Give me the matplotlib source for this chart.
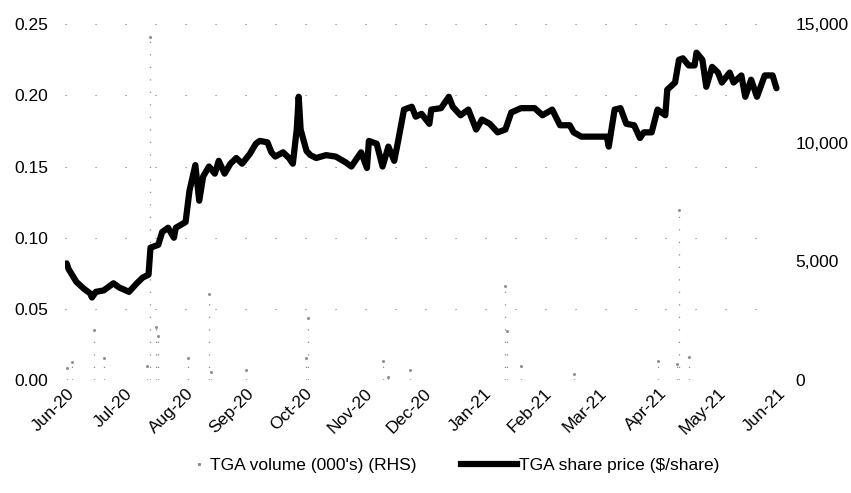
import matplotlib
matplotlib.use("Agg")
import matplotlib.pyplot as plt
import matplotlib.dates as mdates
from matplotlib.lines import Line2D
from matplotlib.legend_handler import HandlerBase
from matplotlib.ticker import FuncFormatter, FixedLocator
import pandas as pd

plt.rcParams['font.family'] = ['Liberation Sans', 'DejaVu Sans']

# Share price ($/share)
price_dates = [
    "2020-06-01", "2020-06-02", "2020-06-06", "2020-06-10", "2020-06-13", "2020-06-14",
    "2020-06-16", "2020-06-20", "2020-06-25", "2020-06-28", "2020-07-03", "2020-07-07",
    "2020-07-10", "2020-07-13", "2020-07-14", "2020-07-18", "2020-07-20", "2020-07-23",
    "2020-07-26", "2020-07-27", "2020-08-01", "2020-08-03", "2020-08-06", "2020-08-08",
    "2020-08-10", "2020-08-13", "2020-08-16", "2020-08-18", "2020-08-21", "2020-08-24",
    "2020-08-27", "2020-08-30", "2020-09-03", "2020-09-06", "2020-09-08", "2020-09-12",
    "2020-09-14", "2020-09-16", "2020-09-20", "2020-09-23", "2020-09-25", "2020-09-27",
    "2020-09-28", "2020-09-29", "2020-10-02", "2020-10-04", "2020-10-07", "2020-10-12",
    "2020-10-17", "2020-10-22", "2020-10-25", "2020-10-30", "2020-11-02", "2020-11-03",
    "2020-11-07", "2020-11-10", "2020-11-13", "2020-11-16", "2020-11-18", "2020-11-21",
    "2020-11-25", "2020-11-27", "2020-11-30", "2020-12-04", "2020-12-05", "2020-12-10",
    "2020-12-14", "2020-12-16", "2020-12-20", "2020-12-24", "2020-12-28", "2020-12-31",
    "2021-01-04", "2021-01-08", "2021-01-12", "2021-01-15", "2021-01-20", "2021-01-27",
    "2021-01-31", "2021-02-05", "2021-02-09", "2021-02-14", "2021-02-16", "2021-02-20",
    "2021-02-25", "2021-03-05", "2021-03-06", "2021-03-09", "2021-03-12", "2021-03-15",
    "2021-03-19", "2021-03-22", "2021-03-24", "2021-03-28", "2021-03-31", "2021-04-04",
    "2021-04-05", "2021-04-09", "2021-04-11", "2021-04-13", "2021-04-16", "2021-04-19",
    "2021-04-20", "2021-04-23", "2021-04-25", "2021-04-28", "2021-05-01", "2021-05-03",
    "2021-05-07", "2021-05-09", "2021-05-13", "2021-05-15", "2021-05-18", "2021-05-21",
    "2021-05-25", "2021-05-29", "2021-05-31",
]
price_values = [
    0.082, 0.078, 0.069, 0.064, 0.061, 0.058,
    0.062, 0.063, 0.068, 0.065, 0.062, 0.068,
    0.072, 0.074, 0.093, 0.095, 0.104, 0.107,
    0.100, 0.107, 0.111, 0.133, 0.151, 0.126,
    0.143, 0.150, 0.145, 0.154, 0.145, 0.152,
    0.156, 0.152, 0.159, 0.166, 0.168, 0.167,
    0.160, 0.157, 0.160, 0.156, 0.152, 0.176,
    0.199, 0.176, 0.161, 0.158, 0.156, 0.158,
    0.157, 0.153, 0.150, 0.160, 0.149, 0.168,
    0.166, 0.150, 0.164, 0.154, 0.168, 0.190,
    0.192, 0.185, 0.187, 0.180, 0.190, 0.191,
    0.199, 0.192, 0.186, 0.190, 0.176, 0.183,
    0.180, 0.174, 0.176, 0.188, 0.191, 0.191,
    0.186, 0.190, 0.179, 0.179, 0.174, 0.171,
    0.171, 0.171, 0.164, 0.190, 0.191, 0.180,
    0.179, 0.170, 0.174, 0.174, 0.190, 0.186,
    0.204, 0.209, 0.225, 0.226, 0.221, 0.221,
    0.230, 0.225, 0.206, 0.220, 0.216, 0.209,
    0.216, 0.209, 0.214, 0.199, 0.211, 0.199,
    0.214, 0.214, 0.205,
]

# Volume (000's), right-hand axis (faint in the reference)
volume_dates = [
    "2020-06-01", "2020-06-04", "2020-06-15", "2020-06-20", "2020-07-12", "2020-07-14",
    "2020-07-17", "2020-07-18", "2020-08-02", "2020-08-13", "2020-08-14", "2020-09-01",
    "2020-10-02", "2020-10-03", "2020-11-10", "2020-11-13", "2020-11-24", "2021-01-12",
    "2021-01-13", "2021-01-20", "2021-02-16", "2021-03-31", "2021-04-10", "2021-04-11",
    "2021-04-16",
]
volume_values = [
    506, 758, 2107, 927, 590, 14450,
    2233, 1854, 927, 3623, 337, 421,
    927, 2612, 800, 126, 421, 3960,
    2064, 590, 253, 800, 674, 7162,
    969,
]

left_ticks = [0.00, 0.05, 0.10, 0.15, 0.20, 0.25]
right_ticks = [0, 5000, 10000, 15000]

pdates = pd.to_datetime(price_dates)
vdates = pd.to_datetime(volume_dates)

FS = 12.5
VOL_COLOR = '#8a8a8a'

fig = plt.figure(figsize=(8.51, 4.93), dpi=100)
ax = fig.add_axes([0.076, 0.229, 0.841, 0.722])
ax2 = ax.twinx()

# volume: faint dotted bars
ax2.vlines(vdates, 0, volume_values, colors=VOL_COLOR, linewidth=0.9,
           linestyles=(0, (1, 9)))
ax2.plot(vdates, volume_values, linestyle='none', marker='s', markersize=1.0,
         color=VOL_COLOR)
ax2.set_ylim(0, 15000)
ax2.yaxis.set_major_locator(FixedLocator(right_ticks))
ax2.yaxis.set_major_formatter(FuncFormatter(lambda v, p: f"{int(v):,}"))

# very sparse dotted gridlines
for t in left_ticks[1:]:
    ax.axhline(t, color='#777777', linewidth=0.8, linestyle=(0, (1, 26)), zorder=0)

ax.plot(pdates, price_values, color='black', linewidth=4.5, solid_joinstyle='round',
        solid_capstyle='round', zorder=3)
ax.set_zorder(ax2.get_zorder() + 1)
ax.patch.set_visible(False)

ax.set_ylim(0, 0.25)
ax.yaxis.set_major_locator(FixedLocator(left_ticks))
ax.yaxis.set_major_formatter(FuncFormatter(lambda v, p: f"{v:.2f}"))
ax.set_xlim(pd.Timestamp("2020-05-31"), pd.Timestamp("2021-06-02"))
ax.xaxis.set_major_locator(mdates.MonthLocator())
ax.xaxis.set_major_formatter(mdates.DateFormatter('%b-%y'))

for a in (ax, ax2):
    for s in a.spines.values():
        s.set_visible(False)
    a.tick_params(length=0, labelsize=FS)
ax.tick_params(axis='y', pad=12)
ax2.tick_params(axis='y', pad=11)
ax.tick_params(axis='x', pad=4)
for lbl in ax.get_xticklabels():
    lbl.set_rotation(45)
    lbl.set_ha('right')
    lbl.set_rotation_mode('anchor')


class DotHandler(HandlerBase):
    def create_artists(self, legend, orig_handle, xdescent, ydescent, width, height,
                       fontsize, trans):
        dot = Line2D([width - xdescent - 6], [height / 2 - ydescent], linestyle='none',
                     marker='s', markersize=1.2, color=VOL_COLOR, transform=trans)
        return [dot]


h_vol = Line2D([], [], linestyle='none', marker='s', markersize=1.2, color=VOL_COLOR)
h_price = Line2D([], [], color='black', linewidth=4.5)
fig.legend([h_vol, h_price], ["TGA volume (000's) (RHS)", "TGA share price ($/share)"],
           loc='center', bbox_to_anchor=(0.512, 0.055), ncol=2, frameon=False,
           fontsize=FS, handlelength=3.2, handletextpad=0.12, columnspacing=2.6,
           handler_map={h_vol: DotHandler()})

fig.savefig("out.png", dpi=100)
